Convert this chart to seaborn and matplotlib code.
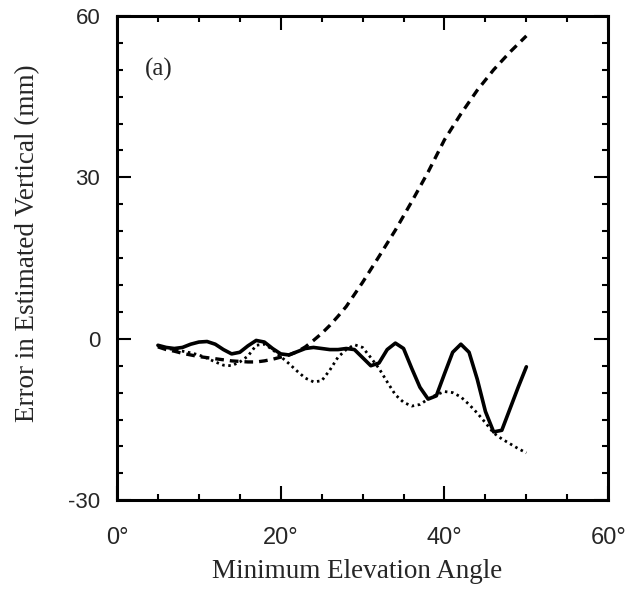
import matplotlib
matplotlib.use("Agg")
import matplotlib.pyplot as plt
import seaborn as sns
import pandas as pd
from matplotlib.ticker import MultipleLocator, FixedLocator

# ---- data ----
solid_x = [5, 6, 7, 8, 9, 10, 11, 12, 13, 14, 15, 16, 17, 18, 19, 20, 21, 22, 23, 24, 25,
           26, 27, 28, 29, 30, 31, 32, 33, 34, 35, 36, 37, 38, 39, 40, 41, 42, 43, 44, 45,
           46, 47, 48, 49, 50]
solid_y = [-1.2, -1.6, -1.8, -1.6, -1.0, -0.6, -0.5, -1.0, -2.0, -2.8, -2.5, -1.3, -0.3,
           -0.6, -1.8, -2.8, -3.0, -2.4, -1.8, -1.6, -1.8, -2.0, -2.0, -1.8, -2.0, -3.5,
           -5.0, -4.5, -2.0, -0.8, -1.8, -5.5, -9.0, -11.2, -10.6, -6.5, -2.5, -1.0, -2.5,
           -7.5, -13.5, -17.3, -17.0, -13.0, -9.0, -5.2]

dashed_x = [5, 6, 7, 8, 9, 10, 11, 12, 13, 14, 15, 16, 17, 18, 19, 20, 21, 22, 23, 24, 25,
            26, 27, 28, 30, 32, 34, 36, 38, 40, 42, 44, 46, 48, 50]
dashed_y = [-1.5, -2.0, -2.3, -2.7, -3.0, -3.3, -3.5, -3.7, -3.9, -4.1, -4.2, -4.3, -4.3,
            -4.1, -3.8, -3.4, -3.0, -2.4, -1.5, -0.3, 1.0, 2.5, 4.2, 6.0, 10.5, 15.3, 20.2,
            25.5, 31.0, 37.0, 41.8, 46.2, 50.0, 53.3, 56.3]

dotted_x = [5, 6, 7, 8, 9, 10, 11, 12, 13, 14, 15, 16, 17, 18, 19, 20, 21, 22, 23, 24, 25,
            26, 27, 28, 29, 30, 31, 32, 33, 34, 35, 36, 37, 38, 39, 40, 41, 42, 43, 44, 45,
            46, 47, 48, 49, 50]
dotted_y = [-1.4, -1.8, -2.0, -2.3, -2.6, -3.0, -3.6, -4.3, -4.9, -5.0, -4.3, -3.2, -1.2,
            -1.0, -2.0, -3.3, -4.6, -6.0, -7.3, -8.0, -7.8, -5.8, -3.4, -2.0, -1.1, -1.6,
            -3.5, -5.5, -8.0, -10.4, -11.8, -12.5, -12.2, -11.2, -10.4, -9.8, -10.0, -10.8,
            -12.2, -13.8, -15.6, -17.5, -18.6, -19.5, -20.4, -21.2]

x_ticks = [0, 20, 40, 60]
x_tick_labels = ["0°", "20°", "40°", "60°"]
y_ticks = [-30, 0, 30, 60]
y_tick_labels = ["-30", "0", "30", "60"]

sns.set_theme(style="ticks")
plt.rcParams["font.family"] = ["Liberation Serif", "DejaVu Serif"]

fig = plt.figure(figsize=(6.29, 5.92), dpi=100)
ax = fig.add_axes([0.186, 0.155, 0.781, 0.818])

df_s = pd.DataFrame({"x": solid_x, "y": solid_y})
df_d = pd.DataFrame({"x": dashed_x, "y": dashed_y})
df_o = pd.DataFrame({"x": dotted_x, "y": dotted_y})

sns.lineplot(data=df_s, x="x", y="y", ax=ax, color="black", lw=2.6, estimator=None, sort=False)
sns.lineplot(data=df_d, x="x", y="y", ax=ax, color="black", lw=2.4, estimator=None, sort=False)
sns.lineplot(data=df_o, x="x", y="y", ax=ax, color="black", lw=2.0, estimator=None, sort=False)
lines = ax.get_lines()
lines[0].set_solid_joinstyle("round")
lines[1].set_dashes([2.6, 1.8])
lines[2].set_dashes([0.9, 1.3])
lines[2].set_dash_capstyle("butt")

ax.set_xlim(0, 60)
ax.set_ylim(-30, 60)
ax.xaxis.set_major_locator(FixedLocator(x_ticks))
ax.yaxis.set_major_locator(FixedLocator(y_ticks))
ax.set_xticklabels(x_tick_labels)
ax.set_yticklabels(y_tick_labels)
ax.xaxis.set_minor_locator(MultipleLocator(5))
ax.yaxis.set_minor_locator(MultipleLocator(5))
ax.tick_params(which="both", direction="in", top=True, right=True, color="black", width=1.5)
ax.tick_params(which="major", length=10)
ax.tick_params(which="minor", length=4.5)
ax.tick_params(axis="x", which="major", pad=19)
ax.tick_params(axis="y", which="major", pad=12)
for lab in ax.get_xticklabels():
    lab.set_fontfamily(["Liberation Sans", "DejaVu Sans"])
    lab.set_fontsize(17)
for lab in ax.get_yticklabels():
    lab.set_fontfamily(["Liberation Sans", "DejaVu Sans"])
    lab.set_fontsize(16)
for sp in ax.spines.values():
    sp.set_linewidth(2.2)
    sp.set_color("black")

ax.set_xlabel("Minimum Elevation Angle", fontsize=19.5)
ax.set_ylabel("Error in Estimated Vertical (mm)", fontsize=19.5)
ax.xaxis.set_label_coords((357 - 117) / 491, (500 - 559) / 484)
ax.yaxis.set_label_coords((40 - 117) / 491, (500 - 243) / 484)
ax.text(3.4, 50, "(a)", fontsize=18, va="center", ha="left")

fig.savefig("out.png", dpi=100)
